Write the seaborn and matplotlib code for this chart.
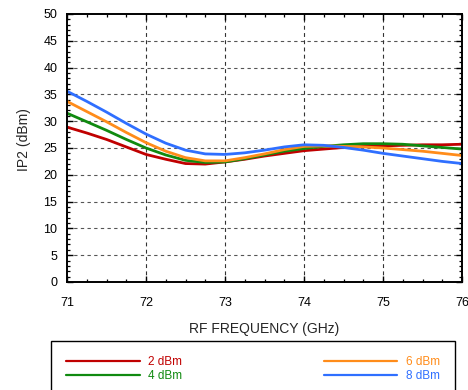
import matplotlib
matplotlib.use("Agg")
import matplotlib.pyplot as plt
from matplotlib.ticker import MultipleLocator
import numpy as np
import pandas as pd
import seaborn as sns

# RF frequency sweep (GHz)
freq = [71.0, 71.25, 71.5, 71.75, 72.0, 72.25, 72.5, 72.75, 73.0, 73.25, 73.5,
        73.75, 74.0, 74.25, 74.5, 74.75, 75.0, 75.25, 75.5, 75.75, 76.0]

# IP2 (dBm) for each input power level
ip2_2dbm = [28.9, 27.8, 26.6, 25.2, 23.8, 22.9, 22.1, 22.0, 22.4, 22.9, 23.5,
            24.0, 24.5, 24.8, 25.1, 25.3, 25.4, 25.5, 25.6, 25.6, 25.7]
ip2_4dbm = [31.5, 29.9, 28.3, 26.6, 25.0, 23.7, 22.7, 22.3, 22.4, 23.0, 23.7,
            24.4, 24.9, 25.3, 25.6, 25.8, 25.8, 25.7, 25.4, 25.1, 24.8]
ip2_6dbm = [33.7, 31.8, 29.9, 27.9, 26.0, 24.4, 23.2, 22.6, 22.6, 23.2, 23.9,
            24.7, 25.3, 25.4, 25.3, 25.2, 25.0, 24.7, 24.4, 24.0, 23.6]
ip2_8dbm = [35.6, 33.7, 31.7, 29.6, 27.6, 25.9, 24.6, 23.9, 23.8, 24.1, 24.6,
            25.2, 25.6, 25.5, 25.1, 24.6, 24.0, 23.5, 23.0, 22.5, 22.1]

series_labels = ["2 dBm", "4 dBm", "6 dBm", "8 dBm"]
series_colors = ["#c00000", "#108a10", "#ff8c1a", "#2f6fff"]

x_ticks = [71, 72, 73, 74, 75, 76]
y_ticks = [0, 5, 10, 15, 20, 25, 30, 35, 40, 45, 50]

frames = []
for lab, vals in zip(series_labels, [ip2_2dbm, ip2_4dbm, ip2_6dbm, ip2_8dbm]):
    frames.append(pd.DataFrame({"freq": freq, "ip2": vals, "level": lab}))
df = pd.concat(frames, ignore_index=True)

sns.set_style("ticks")
plt.rcParams["font.family"] = ["Liberation Sans", "DejaVu Sans"]

fig = plt.figure(figsize=(4.68, 3.90), dpi=100)
ax = fig.add_axes([67 / 468, 108 / 390, 395 / 468, 268 / 390])

sns.lineplot(data=df, x="freq", y="ip2", hue="level", hue_order=series_labels,
             palette=series_colors, linewidth=2.0, ax=ax, legend=True)

ax.set_xlim(71, 76)
ax.set_ylim(0, 50)
ax.set_xticks(x_ticks)
ax.set_yticks(y_ticks)
ax.xaxis.set_minor_locator(MultipleLocator(0.25))
ax.yaxis.set_minor_locator(MultipleLocator(1))
ax.tick_params(which="both", direction="in", top=True, right=True,
               colors="black", labelsize=9)
ax.tick_params(which="major", length=4, width=1)
ax.tick_params(which="minor", length=2.5, width=0.9)
ax.tick_params(axis="x", which="major", pad=11)
ax.tick_params(axis="y", which="major", pad=7)

for s in ax.spines.values():
    s.set_visible(True)
    s.set_color("black")
    s.set_linewidth(1.4)

# dashed grid inside the plotting area
for yv in y_ticks[1:-1]:
    ax.axhline(yv, color="#555555", linewidth=0.8, linestyle=(0, (3, 3)), zorder=0)
for xv in x_ticks[1:-1]:
    ax.axvline(xv, color="#333333", linewidth=0.8, linestyle=(0, (3.5, 3)), zorder=0)

ax.set_xlabel("RF FREQUENCY (GHz)", fontsize=10, labelpad=9)
ax.set_ylabel("IP2 (dBm)", fontsize=10)
ax.yaxis.set_label_coords(-0.091, 0.53)

handles, labels = ax.get_legend_handles_labels()
ax.get_legend().remove()
for h in handles:
    h.set_linewidth(1.6)

leg = fig.legend(handles, labels, ncol=2, loc="upper left",
                 bbox_to_anchor=(51 / 468, -0.2, 404 / 468, 49 / 390 + 0.2),
                 mode="expand", fontsize=8.5, frameon=True, fancybox=False,
                 edgecolor="black", framealpha=1, handlelength=6.2,
                 handletextpad=0.7, labelspacing=0.15, borderpad=1.3,
                 borderaxespad=0)
leg.get_frame().set_linewidth(1.0)
for txt, col in zip(leg.get_texts(), series_colors):
    txt.set_color(col)

fig.savefig("out.png", dpi=100)
